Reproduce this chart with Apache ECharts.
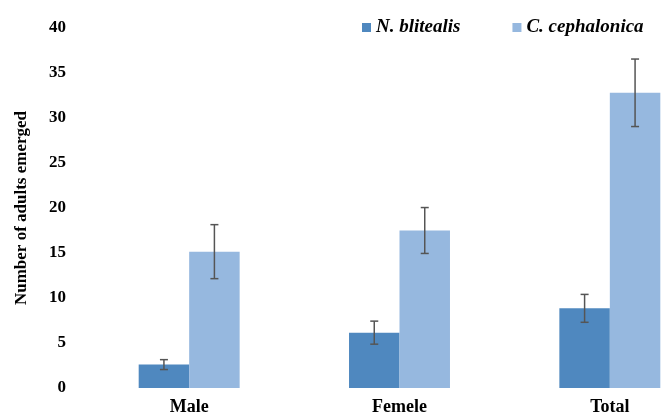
<!DOCTYPE html>
<html><head><meta charset="utf-8">
<script src="https://cdn.jsdelivr.net/npm/echarts@6/dist/echarts.min.js"></script>
<style>html,body{margin:0;padding:0;background:#fff}#c{width:664px;height:414px}</style>
</head><body><div id="c"></div>
<script>
var categories = ['Male', 'Femele', 'Total'];
var seriesNames = ['N. blitealis', 'C. cephalonica'];
var nBlitealis = [2.6, 6.15, 8.85];
var nBlitealisErr = [0.55, 1.28, 1.55];
var cCephalonica = [15.15, 17.5, 32.8];
var cCephalonicaErr = [3.0, 2.55, 3.75];
var colors = ['#4f88bf', '#96b8df'];
var barFrac = 0.24;

var chart = echarts.init(document.getElementById('c'));
var font = 'Liberation Serif, Times New Roman, serif';

function errSeries(vals, errs, sign) {
  return {
    type: 'custom',
    silent: true,
    z: 10,
    data: vals.map(function (v, i) { return [i, v - errs[i], v + errs[i]]; }),
    encode: { x: 0, y: [1, 2] },
    renderItem: function (params, api) {
      var band = api.size([1, 0])[0];
      var off = sign * band * barFrac / 2;
      var lo = api.coord([api.value(0), api.value(1)]);
      var hi = api.coord([api.value(0), api.value(2)]);
      var x = lo[0] + off;
      var cap = 4;
      var st = { stroke: '#555', lineWidth: 1.5 };
      return {
        type: 'group',
        children: [
          { type: 'line', shape: { x1: x, y1: lo[1], x2: x, y2: hi[1] }, style: st },
          { type: 'line', shape: { x1: x - cap, y1: lo[1], x2: x + cap, y2: lo[1] }, style: st },
          { type: 'line', shape: { x1: x - cap, y1: hi[1], x2: x + cap, y2: hi[1] }, style: st }
        ]
      };
    }
  };
}

chart.setOption({
  animation: false,
  legend: {
    left: 357, top: 13,
    itemWidth: 9, itemHeight: 9, itemGap: 52, itemTextGap: 6,
    icon: 'rect',
    data: seriesNames,
    textStyle: { fontFamily: font, fontWeight: 'bold', fontStyle: 'italic', fontSize: 19, color: '#000' }
  },
  grid: { left: 84, right: -51, top: 28, bottom: 26, containLabel: false, outerBoundsMode: 'none' },
  xAxis: {
    type: 'category', data: categories,
    axisLine: { show: false }, axisTick: { show: false },
    axisLabel: { fontFamily: font, fontWeight: 'bold', fontSize: 18, color: '#000', margin: 10 }
  },
  yAxis: {
    type: 'value', min: 0, max: 40, interval: 5,
    name: 'Number of adults emerged', nameLocation: 'middle', nameGap: 54,
    nameTextStyle: { fontFamily: font, fontWeight: 'bold', fontSize: 17, color: '#000' },
    axisLine: { show: false }, axisTick: { show: false }, splitLine: { show: false },
    axisLabel: { fontFamily: font, fontWeight: 'bold', fontSize: 17, color: '#000', margin: 18 }
  },
  series: [
    { name: seriesNames[0], type: 'bar', data: nBlitealis, barWidth: (barFrac * 100) + '%', barGap: '0%', itemStyle: { color: colors[0] } },
    { name: seriesNames[1], type: 'bar', data: cCephalonica, barWidth: (barFrac * 100) + '%', barGap: '0%', itemStyle: { color: colors[1] } },
    errSeries(nBlitealis, nBlitealisErr, -1),
    errSeries(cCephalonica, cCephalonicaErr, 1)
  ]
});
</script></body></html>
